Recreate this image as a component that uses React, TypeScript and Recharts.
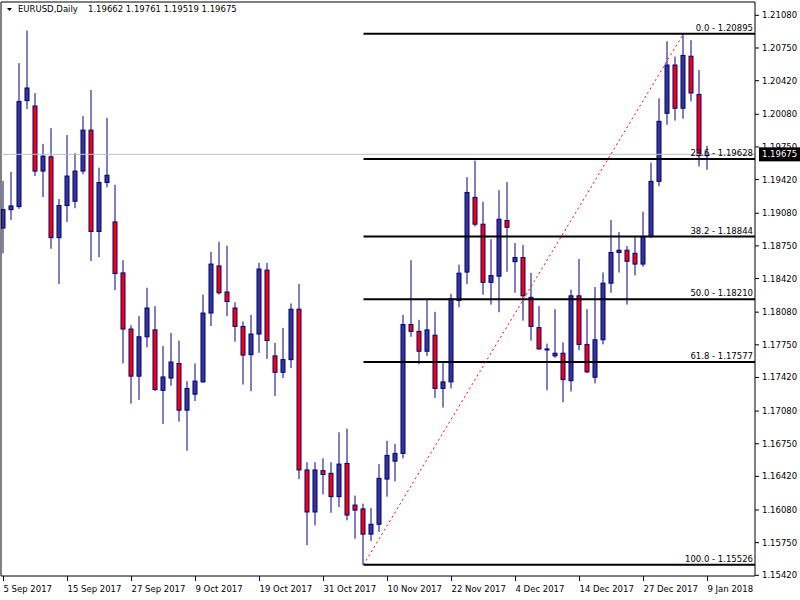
import React from "react";
import { Bar, ComposedChart, ReferenceLine, XAxis, YAxis } from "recharts";

// EURUSD daily bars, 5 Sep 2017 .. 9 Jan 2018
const OPEN = [
  1.1893, 1.19116, 1.19147, 1.20218, 1.20164, 1.19506, 1.1965, 1.18833, 1.19158, 1.19201,
  1.19506, 1.1992, 1.18895, 1.1939, 1.18992, 1.18477, 1.17909, 1.17433, 1.17831, 1.17901,
  1.1729, 1.17414, 1.17561, 1.17089, 1.17251, 1.17375, 1.18071, 1.18547, 1.18284, 1.18122,
  1.17936, 1.1765, 1.17859, 1.18505, 1.17638, 1.17472, 1.176, 1.1811, 1.16485, 1.1606,
  1.16478, 1.16451, 1.16215, 1.16551, 1.1613, 1.16091, 1.15836, 1.15936, 1.16393, 1.16574,
  1.16652, 1.17955, 1.17886, 1.17685, 1.17847, 1.17309, 1.17375, 1.18199, 1.18485, 1.1924,
  1.18969, 1.18381, 1.18443, 1.19007, 1.1859, 1.18632, 1.1823, 1.17924, 1.177, 1.17638,
  1.17665, 1.17387, 1.18245, 1.17754, 1.17422, 1.17801, 1.18373, 1.18683, 1.18706, 1.18675,
  1.18566, 1.18845, 1.19402, 1.2009, 1.20578, 1.20141, 1.20667, 1.2028, 1.19662,
];
const HIGH = [
  1.19406, 1.19499, 1.20597, 1.20926, 1.20295, 1.19781, 1.1994, 1.19224, 1.1987, 1.19688,
  1.20063, 1.20326, 1.19541, 1.20044, 1.19367, 1.18605, 1.17948, 1.1804, 1.18327, 1.18141,
  1.17739, 1.1787, 1.17793, 1.17383, 1.17561, 1.18257, 1.1869, 1.18791, 1.18752, 1.1818,
  1.17986, 1.18052, 1.18578, 1.18578, 1.1777, 1.17921, 1.18168, 1.18365, 1.16563, 1.16563,
  1.16602, 1.16563, 1.16865, 1.16903, 1.16226, 1.16145, 1.16099, 1.16544, 1.16779, 1.16748,
  1.18052, 1.18605, 1.18002, 1.18218, 1.18083, 1.1758, 1.18265, 1.18559, 1.19445, 1.19611,
  1.19197, 1.18818, 1.19313, 1.19394, 1.18779, 1.1876, 1.18477, 1.18141, 1.17762, 1.1811,
  1.17774, 1.18307, 1.18617, 1.1811, 1.18334, 1.18481, 1.19011, 1.18891, 1.18748, 1.18837,
  1.19096, 1.19591, 1.20241, 1.20818, 1.20663, 1.20895, 1.20829, 1.20528, 1.19761,
];
const LOW = [
  1.18675, 1.19011, 1.19124, 1.20133, 1.19456, 1.19243, 1.18721, 1.18365, 1.18992, 1.19131,
  1.19475, 1.18597, 1.18636, 1.1934, 1.18303, 1.17561, 1.17155, 1.17193, 1.17723, 1.17282,
  1.1695, 1.17336, 1.16973, 1.16679, 1.17182, 1.17367, 1.1794, 1.18257, 1.1804, 1.17781,
  1.17348, 1.17282, 1.17669, 1.17607, 1.17232, 1.17414, 1.17514, 1.16393, 1.15724, 1.15925,
  1.16238, 1.16052, 1.1611, 1.15975, 1.15789, 1.15526, 1.15766, 1.15859, 1.16215, 1.16369,
  1.16602, 1.17831, 1.17553, 1.17638, 1.17213, 1.17116, 1.17309, 1.18129, 1.18365, 1.18946,
  1.18257, 1.18156, 1.18079, 1.18489, 1.18276, 1.17994, 1.17793, 1.177, 1.1729, 1.17619,
  1.17169, 1.17278, 1.17696, 1.17464, 1.1736, 1.17754, 1.18276, 1.18481, 1.18156, 1.1845,
  1.18539, 1.1883, 1.19352, 1.19974, 1.20017, 1.20036, 1.2021, 1.19553, 1.19519,
];
const CLOSE = [
  1.19116, 1.19154, 1.2021, 1.20346, 1.19506, 1.19657, 1.18833, 1.19158, 1.19456, 1.19506,
  1.1992, 1.18895, 1.1939, 1.19464, 1.1847, 1.17909, 1.17433, 1.17831, 1.18122, 1.17298,
  1.17425, 1.17576, 1.17089, 1.17309, 1.17383, 1.18071, 1.18566, 1.18276, 1.18187, 1.17936,
  1.17646, 1.17859, 1.18516, 1.17793, 1.17472, 1.176, 1.1811, 1.16485, 1.1606, 1.16485,
  1.16439, 1.16215, 1.16544, 1.16029, 1.16079, 1.15836, 1.15936, 1.164, 1.16632, 1.16652,
  1.17955, 1.17886, 1.17685, 1.17901, 1.17309, 1.17375, 1.18214, 1.18474, 1.1929, 1.18969,
  1.18381, 1.1845, 1.19019, 1.18938, 1.18632, 1.18245, 1.17936, 1.17708, 1.17708, 1.17665,
  1.17398, 1.18245, 1.17754, 1.17476, 1.17801, 1.18373, 1.18683, 1.18706, 1.18594, 1.18566,
  1.18845, 1.19402, 1.20009, 1.20578, 1.20141, 1.20675, 1.20295, 1.19662, 1.19675,
];

const DATE_TICKS = [0, 8, 16, 24, 32, 40, 48, 56, 64, 72, 80, 88];
const DATE_LABELS = [
  "5 Sep 2017", "15 Sep 2017", "27 Sep 2017", "9 Oct 2017", "19 Oct 2017", "31 Oct 2017",
  "10 Nov 2017", "22 Nov 2017", "4 Dec 2017", "14 Dec 2017", "27 Dec 2017", "9 Jan 2018",
];

const PRICE_TICKS = [
  1.1542, 1.1575, 1.1608, 1.1642, 1.1675, 1.1708, 1.1742, 1.1775, 1.1808,
  1.1842, 1.1875, 1.1908, 1.1942, 1.1975, 1.2008, 1.2042, 1.2075, 1.2108,
];

const FIB_LEVELS = ["0.0", "23.6", "38.2", "50.0", "61.8", "100.0"];
const FIB_PRICES = [1.20895, 1.19628, 1.18844, 1.1821, 1.17577, 1.15526];
const FIB_LOW_BAR = 45;
const FIB_HIGH_BAR = 85;

const SYMBOL = "EURUSD,Daily";

const X_MIN = -0.3125;
const X_MAX = 93.9375;
const Y_MIN = 1.15413;
const Y_MAX = 1.21215;

const FONT = "DejaVu Sans";
const BULL = "#37378f";
const BEAR = "#ff0000";
const EDGE = "#000080";

const data = OPEN.map((o, i) => ({
  i,
  open: o,
  high: HIGH[i],
  low: LOW[i],
  close: CLOSE[i],
  range: [LOW[i], HIGH[i]],
}));

const last = data[data.length - 1];

const Candle = (props: any) => {
  const { x, y, width, height, payload } = props;
  if (x == null || !payload) return null;
  const top = Math.min(y, y + height);
  const h = Math.abs(height);
  const { open, close, high, low } = payload;
  const py = (p: number) => top + ((high - p) / (high - low)) * h;
  const cx = x + width / 2;
  const bTop = py(Math.max(open, close));
  const bBot = py(Math.min(open, close));
  const up = close >= open;
  return (
    <g>
      <line x1={cx} x2={cx} y1={top} y2={top + h} stroke={EDGE} strokeWidth={1} />
      <rect
        x={cx - 2}
        y={bTop}
        width={4}
        height={Math.max(bBot - bTop, 1)}
        fill={up ? BULL : BEAR}
        stroke={EDGE}
        strokeWidth={1}
      />
    </g>
  );
};

const DateTick = (props: any) => {
  const { x, y, payload } = props;
  const idx = DATE_TICKS.indexOf(payload.value);
  return (
    <g>
      <line x1={x} x2={x} y1={y} y2={y + 5} stroke="#000" />
      <text x={x} y={y + 16} fontSize={8.5} fontFamily={FONT} fill="#000" textAnchor="start">
        {DATE_LABELS[idx]}
      </text>
    </g>
  );
};

const PriceTick = (props: any) => {
  const { x, y, payload } = props;
  return (
    <g>
      <line x1={x} x2={x + 4} y1={y} y2={y} stroke="#000" />
      <text x={x + 7} y={y + 3} fontSize={8.5} fontFamily={FONT} fill="#000" textAnchor="start">
        {payload.value.toFixed(5)}
      </text>
    </g>
  );
};

const fibLabel = (text: string) => (p: any) => {
  const vb = p.viewBox;
  return (
    <text
      x={vb.x + vb.width - 2}
      y={vb.y - 3}
      fontSize={8.5}
      fontFamily={FONT}
      fill="#000"
      textAnchor="end"
    >
      {text}
    </text>
  );
};

const priceBox = (p: any) => {
  const vb = p.viewBox;
  const bx = vb.x + vb.width + 4;
  return (
    <g>
      <rect x={bx} y={vb.y - 7} width={42} height={14} fill="#000" />
      <text x={bx + 3} y={vb.y + 3} fontSize={8.5} fontFamily={FONT} fill="#fff">
        {last.close.toFixed(5)}
      </text>
    </g>
  );
};

export default function App() {
  return (
    <div style={{ position: "absolute", left: 0, top: 0, width: 800, height: 600, background: "#fff" }}>
      <ComposedChart
        width={800}
        height={600}
        data={data}
        margin={{ top: 2, right: 0, bottom: 0, left: 1 }}
      >
        <XAxis
          type="number"
          dataKey="i"
          domain={[X_MIN, X_MAX]}
          allowDataOverflow
          ticks={DATE_TICKS}
          interval={0}
          height={24}
          tickSize={0}
          tickMargin={0}
          tickLine={false}
          axisLine={{ stroke: "#000" }}
          tick={<DateTick />}
        />
        <YAxis
          orientation="right"
          type="number"
          domain={[Y_MIN, Y_MAX]}
          allowDataOverflow
          ticks={PRICE_TICKS}
          interval={0}
          width={45}
          tickSize={0}
          tickMargin={0}
          tickLine={false}
          axisLine={{ stroke: "#000" }}
          tick={<PriceTick />}
        />
        <ReferenceLine y={Y_MAX} stroke="#000" />
        <ReferenceLine x={X_MIN} stroke="#000" />
        <ReferenceLine y={last.close} stroke="#c0c0c0" label={{ content: priceBox }} />
        {FIB_PRICES.map((p, k) => (
          <ReferenceLine
            key={FIB_LEVELS[k]}
            segment={[
              { x: FIB_LOW_BAR, y: p },
              { x: X_MAX, y: p },
            ]}
            stroke="#000"
            strokeWidth={2}
            label={{ content: fibLabel(`${FIB_LEVELS[k]} - ${p.toFixed(5)}`) }}
          />
        ))}
        <ReferenceLine
          segment={[
            { x: FIB_LOW_BAR, y: LOW[FIB_LOW_BAR] },
            { x: FIB_HIGH_BAR, y: HIGH[FIB_HIGH_BAR] },
          ]}
          stroke="#ff0000"
          strokeDasharray="2 3"
        />
        <Bar
          dataKey="range"
          barSize={5}
          shape={(p: any) => <Candle {...p} />}
          isAnimationActive={false}
        />
      </ComposedChart>
      <svg style={{ position: "absolute", left: 0, top: 0 }} width={300} height={18}>
        <polygon points="7,8 12,8 9.5,11" fill="#000" />
        <text x={18} y={12} fontSize={8.5} fontFamily={FONT} fill="#000">
          {SYMBOL}
        </text>
        <text x={88} y={12} fontSize={8.5} fontFamily={FONT} fill="#000">
          {[last.open, last.high, last.low, last.close].map((v) => v.toFixed(5)).join(" ")}
        </text>
      </svg>
    </div>
  );
}
